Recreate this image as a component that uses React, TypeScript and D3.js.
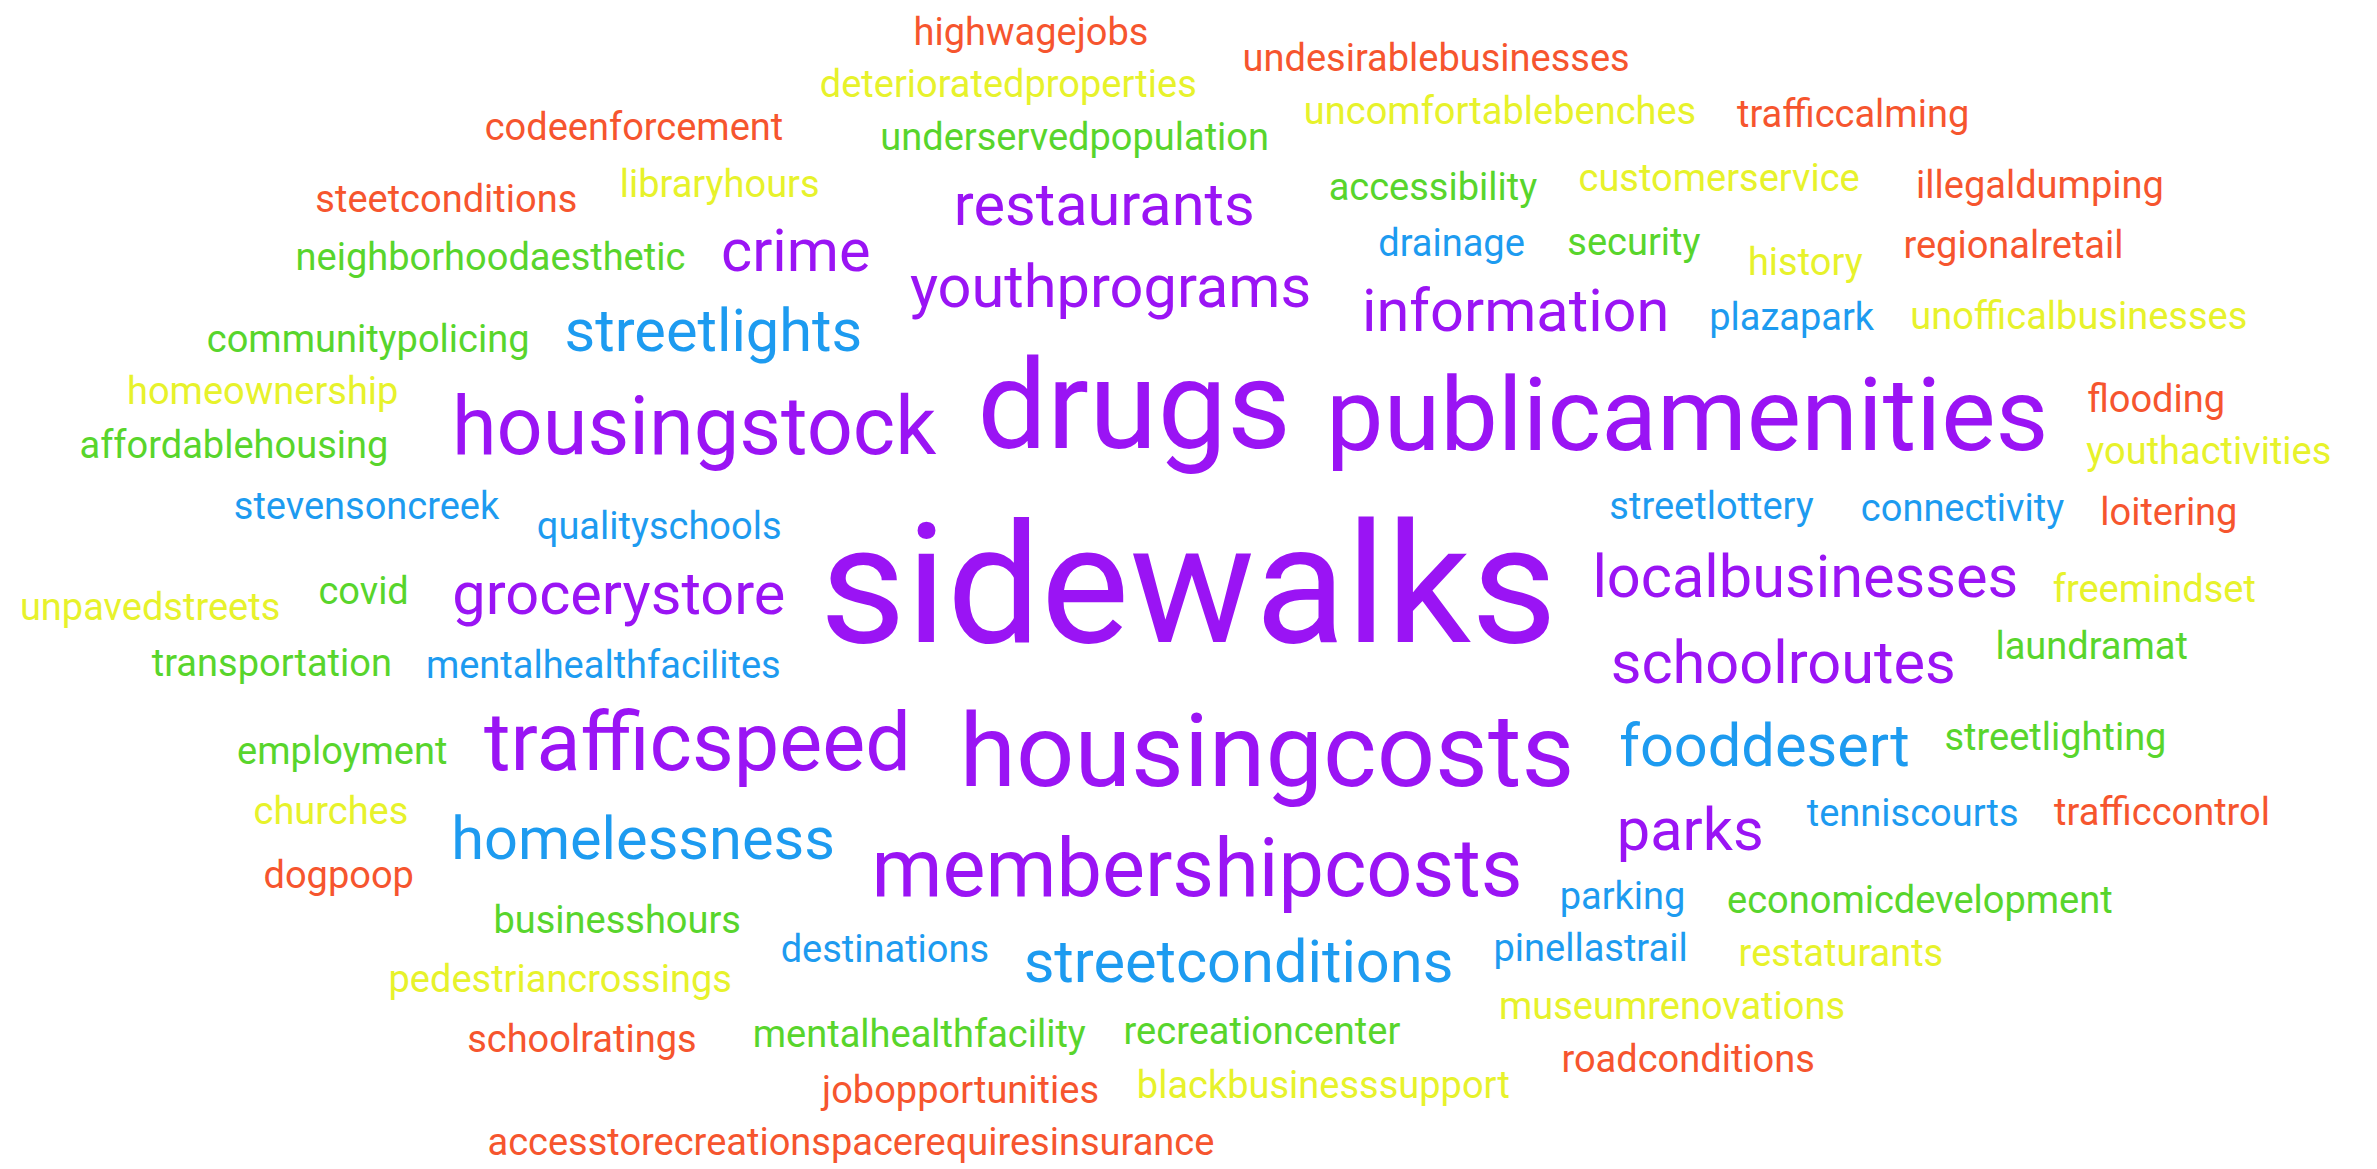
import React, { useMemo } from "react";
import * as d3 from "d3";

const W = 2377;
const H = 1169;
const FONT = "Roboto";

// word, count (frequency tier), category (colour group)
const words = [
  "sidewalks", "drugs", "housingcosts", "publicamenities", "membershipcosts", "trafficspeed", "housingstock",
  "localbusinesses", "grocerystore", "schoolroutes", "youthprograms", "information", "fooddesert", "streetlights",
  "homelessness", "streetconditions", "parks", "restaurants", "crime",
  "qualityschools", "streetlottery", "mentalhealthfacilites", "drainage", "stevensoncreek", "connectivity", "parking",
  "destinations", "plazapark", "tenniscourts", "pinellastrail",
  "covid", "accessibility", "security", "businesshours", "employment", "transportation", "recreationcenter",
  "underservedpopulation", "neighborhoodaesthetic", "economicdevelopment", "laundramat", "streetlighting",
  "communitypolicing", "mentalhealthfacility", "affordablehousing",
  "history", "freemindset", "libraryhours", "museumrenovations", "homeownership", "customerservice",
  "uncomfortablebenches", "pedestriancrossings", "unpavedstreets", "unofficalbusinesses", "blackbusinesssupport",
  "deterioratedproperties", "churches", "restaturants", "youthactivities",
  "loitering", "dogpoop", "flooding", "regionalretail", "jobopportunities", "steetconditions", "trafficcontrol",
  "codeenforcement", "roadconditions", "undesirablebusinesses", "schoolratings", "highwagejobs", "illegaldumping",
  "trafficcalming", "accesstorecreationspacerequiresinsurance",
];

const counts = [
  7, 5, 4, 4, 3, 3, 3,
  2, 2, 2, 2, 2, 2, 2,
  2, 2, 2, 2, 2,
  1, 1, 1, 1, 1, 1, 1,
  1, 1, 1, 1,
  1, 1, 1, 1, 1, 1, 1,
  1, 1, 1, 1, 1,
  1, 1, 1,
  1, 1, 1, 1, 1, 1,
  1, 1, 1, 1, 1,
  1, 1, 1, 1,
  1, 1, 1, 1, 1, 1, 1,
  1, 1, 1, 1, 1, 1,
  1, 1,
];

const categories = [
  "A", "A", "A", "A", "A", "A", "A",
  "A", "A", "A", "A", "A", "B", "B",
  "B", "B", "A", "A", "A",
  "B", "B", "B", "B", "B", "B", "B",
  "B", "B", "B", "B",
  "C", "C", "C", "C", "C", "C", "C",
  "C", "C", "C", "C", "C",
  "C", "C", "C",
  "D", "D", "D", "D", "D", "D",
  "D", "D", "D", "D", "D",
  "D", "D", "D", "D",
  "E", "E", "E", "E", "E", "E", "E",
  "E", "E", "E", "E", "E", "E",
  "E", "E",
];

const categoryNames = ["A", "B", "C", "D", "E"];
const categoryColors = ["#9A14F4", "#1D9BF0", "#58D52C", "#E7F22B", "#F6552E"];

type Placed = { text: string; size: number; color: string; x: number; y: number };

function layout(): Placed[] {
  const size = d3.scaleLinear().domain([1, 7]).range([38, 167]);
  const color = d3.scaleOrdinal<string, string>().domain(categoryNames).range(categoryColors);
  const canvas = document.createElement("canvas");
  const ctx = canvas.getContext("2d")!;
  const items = words.map((w, i) => ({ text: w, count: counts[i], cat: categories[i], idx: i }));
  items.sort((a, b) => b.count - a.count || a.idx - b.idx);
  const rects: [number, number, number, number][] = [];
  const out: Placed[] = [];
  const e = (W / H) * 1.05;
  const padX = 17;
  const padY = 4;
  for (const it of items) {
    const fs = size(it.count);
    ctx.font = `400 ${fs}px ${FONT}`;
    const m = ctx.measureText(it.text);
    const asc = m.fontBoundingBoxAscent ?? fs * 0.93;
    const desc = m.fontBoundingBoxDescent ?? fs * 0.24;
    const left = 0;
    const right = m.width;
    const top = -asc;
    const bottom = desc;
    const w = right - left + 2 * padX;
    const h = bottom - top + 2 * padY;
    for (let i = 0; i < 200000; i++) {
      const t = i * 0.1;
      const dx = e * t * Math.cos(t);
      const dy = t * Math.sin(t);
      if (Math.abs(dx) > W && Math.abs(dy) > H) break;
      const cx = W / 2 + dx;
      const cy = H / 2 + dy;
      const x0 = cx - w / 2, y0 = cy - h / 2, x1 = cx + w / 2, y1 = cy + h / 2;
      if (x0 < 0 || y0 < 0 || x1 > W || y1 > H) continue;
      let hit = false;
      for (const r of rects) {
        if (x0 < r[2] && x1 > r[0] && y0 < r[3] && y1 > r[1]) { hit = true; break; }
      }
      if (hit) continue;
      rects.push([x0, y0, x1, y1]);
      out.push({
        text: it.text,
        size: fs,
        color: color(it.cat),
        x: cx - (left + right) / 2,
        y: cy - (top + bottom) / 2,
      });
      break;
    }
  }
  return out;
}

export default function App() {
  const placed = useMemo(() => layout(), []);
  return (
    <div style={{ position: "absolute", left: 0, top: 0, width: W, height: H, background: "#fff" }}>
      <svg width={W} height={H} viewBox={`0 0 ${W} ${H}`} style={{ display: "block" }}>
        <rect width={W} height={H} fill="#fff" />
        {placed.map((p) => (
          <text key={p.text} x={p.x} y={p.y} fontSize={p.size} fontFamily={FONT} fill={p.color}>
            {p.text}
          </text>
        ))}
      </svg>
    </div>
  );
}
